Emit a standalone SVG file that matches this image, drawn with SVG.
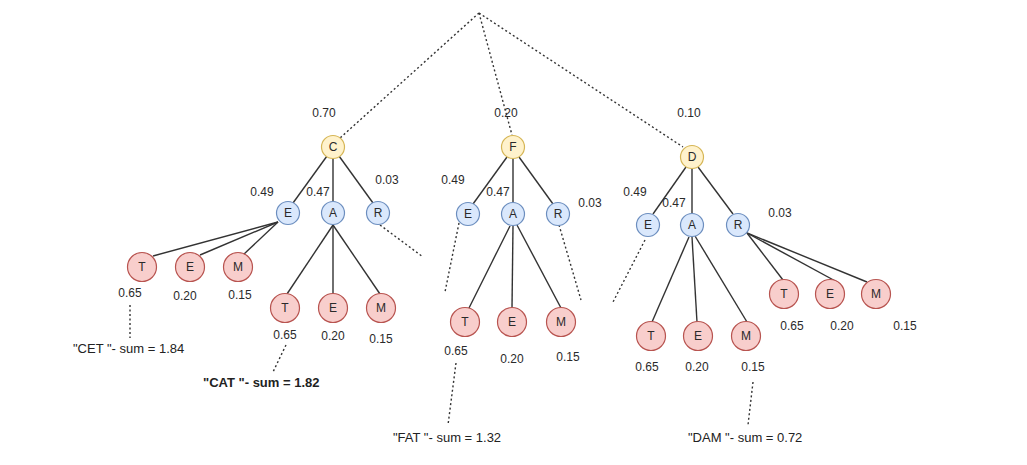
<svg xmlns="http://www.w3.org/2000/svg" width="1027" height="465" viewBox="0 0 1027 465">
<style>
.y{fill:#fff2cc;stroke:#d6b656;stroke-width:1.2}
.b{fill:#dae8fc;stroke:#6c8ebf;stroke-width:1.2}
.r{fill:#f8cecc;stroke:#b85450;stroke-width:1.2}
.t{font-family:"Liberation Sans",Arial,sans-serif;font-size:12px;fill:#2a2a2a;text-anchor:middle;dominant-baseline:central}
.s{font-family:"Liberation Sans",Arial,sans-serif;font-size:13px;fill:#222;dominant-baseline:central}
.l{stroke:#333;stroke-width:1.4;fill:none}
.d{stroke:#333;stroke-width:1.4;fill:none;stroke-dasharray:2 2.5}
</style>
<rect width="1027" height="465" fill="#fff"/>
<g id="connectors">
<line class="d" x1="479" y1="13" x2="340" y2="138"/>
<line class="d" x1="479" y1="13" x2="512" y2="135"/>
<line class="d" x1="479" y1="13" x2="683" y2="147"/>
<line class="l" x1="327" y1="156" x2="293" y2="203"/>
<line class="l" x1="333" y1="158" x2="333" y2="201"/>
<line class="l" x1="339" y1="156" x2="373" y2="203"/>
<line class="l" x1="278" y1="222" x2="153" y2="256"/>
<line class="l" x1="278" y1="222" x2="200" y2="255"/>
<line class="l" x1="278" y1="222" x2="243" y2="255"/>
<line class="l" x1="333" y1="225" x2="287" y2="294"/>
<line class="l" x1="333" y1="225" x2="333" y2="294"/>
<line class="l" x1="333" y1="225" x2="380" y2="294"/>
<line class="d" x1="380" y1="225" x2="423" y2="257"/>
<line class="d" x1="130" y1="305" x2="130" y2="338"/>
<line class="d" x1="286" y1="345" x2="273" y2="372"/>
<line class="l" x1="507" y1="157" x2="473" y2="204"/>
<line class="l" x1="513" y1="159" x2="513" y2="202"/>
<line class="l" x1="519" y1="157" x2="553" y2="204"/>
<line class="d" x1="459" y1="223" x2="445" y2="292"/>
<line class="d" x1="559" y1="225" x2="581" y2="300"/>
<line class="l" x1="510" y1="226" x2="468" y2="310"/>
<line class="l" x1="513" y1="226" x2="512" y2="308"/>
<line class="l" x1="517" y1="225" x2="561" y2="308"/>
<line class="d" x1="456" y1="363" x2="448" y2="425"/>
<line class="l" x1="686" y1="167" x2="653" y2="214"/>
<line class="l" x1="692" y1="169" x2="692" y2="213"/>
<line class="l" x1="698" y1="167" x2="733" y2="214"/>
<line class="d" x1="645" y1="240" x2="613" y2="302"/>
<line class="l" x1="689" y1="237" x2="652" y2="322"/>
<line class="l" x1="692" y1="237" x2="697" y2="322"/>
<line class="l" x1="695" y1="236" x2="747" y2="322"/>
<line class="l" x1="747" y1="233" x2="783" y2="280"/>
<line class="l" x1="747" y1="233" x2="839" y2="283"/>
<line class="l" x1="747" y1="233" x2="867" y2="282"/>
<line class="d" x1="753" y1="382" x2="748" y2="425"/>
</g>
<g id="labels">
<text class="t" x="324" y="113">0.70</text>
<text class="t" x="262" y="192">0.49</text>
<text class="t" x="318" y="192">0.47</text>
<text class="t" x="387" y="180">0.03</text>
<text class="t" x="130" y="293">0.65</text>
<text class="t" x="185" y="296">0.20</text>
<text class="t" x="240" y="295">0.15</text>
<text class="t" x="285" y="335">0.65</text>
<text class="t" x="333" y="336">0.20</text>
<text class="t" x="381" y="339">0.15</text>
<text class="t" x="506" y="113">0.20</text>
<text class="t" x="453" y="180">0.49</text>
<text class="t" x="498" y="192">0.47</text>
<text class="t" x="590" y="203">0.03</text>
<text class="t" x="456" y="351">0.65</text>
<text class="t" x="512" y="359">0.20</text>
<text class="t" x="568" y="357">0.15</text>
<text class="t" x="689" y="113">0.10</text>
<text class="t" x="635" y="192">0.49</text>
<text class="t" x="674" y="203">0.47</text>
<text class="t" x="780" y="213">0.03</text>
<text class="t" x="647" y="367">0.65</text>
<text class="t" x="697" y="367">0.20</text>
<text class="t" x="753" y="367">0.15</text>
<text class="t" x="792" y="326">0.65</text>
<text class="t" x="842" y="326">0.20</text>
<text class="t" x="905" y="326">0.15</text>
<text class="s" x="73" y="348">"CET "- sum = 1.84</text>
<text class="s" x="203" y="382" font-weight="bold" fill="#111">"CAT "- sum = 1.82</text>
<text class="s" x="393" y="437">"FAT "- sum = 1.32</text>
<text class="s" x="688" y="437">"DAM "- sum = 0.72</text>
</g>
<g id="n-C"><circle class="y" cx="333" cy="147" r="11.5"/><text class="t" x="333" y="147">C</text></g>
<g id="n-C-E"><circle class="b" cx="288" cy="213" r="11.5"/><text class="t" x="288" y="213">E</text></g>
<g id="n-C-A"><circle class="b" cx="333" cy="213" r="11.5"/><text class="t" x="333" y="213">A</text></g>
<g id="n-C-R"><circle class="b" cx="378" cy="213" r="11.5"/><text class="t" x="378" y="213">R</text></g>
<g id="n-CE-T"><circle class="r" cx="142" cy="267" r="14.5"/><text class="t" x="142" y="267">T</text></g>
<g id="n-CE-E"><circle class="r" cx="190" cy="267" r="14.5"/><text class="t" x="190" y="267">E</text></g>
<g id="n-CE-M"><circle class="r" cx="238" cy="267" r="14.5"/><text class="t" x="238" y="267">M</text></g>
<g id="n-CA-T"><circle class="r" cx="285" cy="308" r="14.5"/><text class="t" x="285" y="308">T</text></g>
<g id="n-CA-E"><circle class="r" cx="333" cy="308" r="14.5"/><text class="t" x="333" y="308">E</text></g>
<g id="n-CA-M"><circle class="r" cx="381" cy="308" r="14.5"/><text class="t" x="381" y="308">M</text></g>
<g id="n-F"><circle class="y" cx="513" cy="147" r="11.5"/><text class="t" x="513" y="147">F</text></g>
<g id="n-F-E"><circle class="b" cx="468" cy="214" r="11.5"/><text class="t" x="468" y="214">E</text></g>
<g id="n-F-A"><circle class="b" cx="513" cy="214" r="11.5"/><text class="t" x="513" y="214">A</text></g>
<g id="n-F-R"><circle class="b" cx="558" cy="214" r="11.5"/><text class="t" x="558" y="214">R</text></g>
<g id="n-FA-T"><circle class="r" cx="465" cy="322" r="14.5"/><text class="t" x="465" y="322">T</text></g>
<g id="n-FA-E"><circle class="r" cx="512" cy="322" r="14.5"/><text class="t" x="512" y="322">E</text></g>
<g id="n-FA-M"><circle class="r" cx="561" cy="322" r="14.5"/><text class="t" x="561" y="322">M</text></g>
<g id="n-D"><circle class="y" cx="692" cy="157" r="11.5"/><text class="t" x="692" y="157">D</text></g>
<g id="n-D-E"><circle class="b" cx="648" cy="225" r="11.5"/><text class="t" x="648" y="225">E</text></g>
<g id="n-D-A"><circle class="b" cx="692" cy="225" r="11.5"/><text class="t" x="692" y="225">A</text></g>
<g id="n-D-R"><circle class="b" cx="738" cy="225" r="11.5"/><text class="t" x="738" y="225">R</text></g>
<g id="n-DA-T"><circle class="r" cx="651" cy="336" r="14.5"/><text class="t" x="651" y="336">T</text></g>
<g id="n-DA-E"><circle class="r" cx="698" cy="336" r="14.5"/><text class="t" x="698" y="336">E</text></g>
<g id="n-DA-M"><circle class="r" cx="746" cy="336" r="14.5"/><text class="t" x="746" y="336">M</text></g>
<g id="n-DR-T"><circle class="r" cx="784" cy="294" r="14.5"/><text class="t" x="784" y="294">T</text></g>
<g id="n-DR-E"><circle class="r" cx="830" cy="294" r="14.5"/><text class="t" x="830" y="294">E</text></g>
<g id="n-DR-M"><circle class="r" cx="876" cy="294" r="14.5"/><text class="t" x="876" y="294">M</text></g>
</svg>
